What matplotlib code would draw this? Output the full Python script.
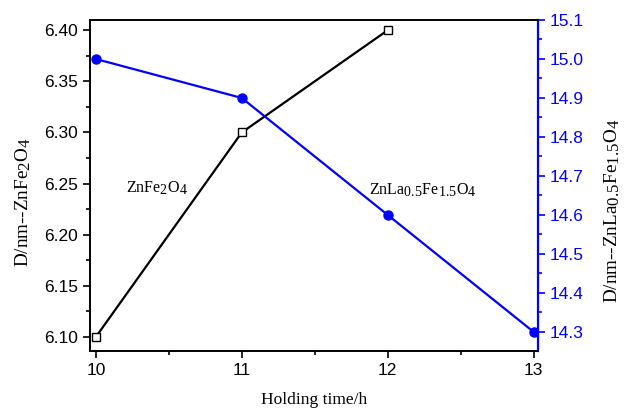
import matplotlib
matplotlib.use("Agg")
import matplotlib.pyplot as plt
from matplotlib.ticker import MultipleLocator, FormatStrFormatter
import matplotlib._mathtext as _mt

# Origin-style subscripts are only slightly smaller than the base text
_mt.SHRINK_FACTOR = 0.88

plt.rcParams['mathtext.fontset'] = 'custom'
plt.rcParams['mathtext.rm'] = 'Liberation Serif'
plt.rcParams['mathtext.it'] = 'Liberation Serif:italic'

hours_a = [10, 11, 12]
size_znfe = [6.10, 6.30, 6.40]
hours_b = [10, 11, 12, 13]
size_znlafe = [15.0, 14.9, 14.6, 14.3]

fig = plt.figure(figsize=(6.25, 4.11), dpi=100)
ax = fig.add_axes([90/625, 60/411, 448/625, 331/411])
ax2 = ax.twinx()

ax.plot(hours_a, size_znfe, color='black', lw=1.6, marker='s', ms=6,
        mfc='white', mec='black', mew=1.0, zorder=3)
ax2.plot(hours_b, size_znlafe, color='blue', lw=1.6, marker='o', ms=6.5,
         mfc='blue', mec='blue', zorder=3)

ax.set_xlim(9.96, 13.03)
ax.set_ylim(6.0863, 6.41)
ax2.set_ylim(14.251, 15.1)

ax.xaxis.set_major_locator(MultipleLocator(1))
ax.xaxis.set_minor_locator(MultipleLocator(0.5))
ax.yaxis.set_major_locator(MultipleLocator(0.05))
ax.yaxis.set_minor_locator(MultipleLocator(0.025))
ax2.yaxis.set_major_locator(MultipleLocator(0.1))
ax2.yaxis.set_minor_locator(MultipleLocator(0.05))
ax.yaxis.set_major_formatter(FormatStrFormatter('%.2f'))
ax2.yaxis.set_major_formatter(FormatStrFormatter('%.1f'))

ax.tick_params(axis='both', which='major', direction='out', length=5, width=1.2,
               labelsize=12.5)
ax.tick_params(axis='both', which='minor', direction='out', length=3, width=1.2)
ax2.tick_params(axis='y', which='major', direction='out', length=5, width=1.2,
                labelsize=12.5, colors='blue')
ax2.tick_params(axis='y', which='minor', direction='out', length=3, width=1.2,
                colors='blue')
for lab in ax.get_xticklabels() + ax.get_yticklabels() + ax2.get_yticklabels():
    lab.set_fontfamily('Liberation Sans')

for s in ax.spines.values():
    s.set_linewidth(1.2)
for s in ax2.spines.values():
    s.set_linewidth(1.2)
ax2.spines['right'].set_color('blue')
ax2.spines['right'].set_linewidth(1.6)

serif = 'Liberation Serif'
ax.set_xlabel('Holding time/h', fontfamily=serif, fontsize=12.5, labelpad=10)
ax.set_ylabel(r'D/nm--ZnFe$_{\mathrm{2}}$O$_{\mathrm{4}}$', fontfamily=serif,
              fontsize=13.8)
ax.yaxis.set_label_coords(-0.128, 0.45)
ax2.set_ylabel(r'D/nm--ZnLa$_{\mathrm{0.5}}$Fe$_{\mathrm{1.5}}$O$_{\mathrm{4}}$',
               fontfamily=serif, fontsize=13.8)
ax2.yaxis.set_label_coords(1.143, 0.425)

ax.text(10.21, 6.245, r'ZnFe$_{\mathrm{2}}$O$_{\mathrm{4}}$', fontfamily=serif,
        fontsize=11.5, va='center', ha='left')
ax.text(11.87, 6.243, r'ZnLa$_{\mathrm{0.5}}$Fe$_{\mathrm{1.5}}$O$_{\mathrm{4}}$',
        fontfamily=serif, fontsize=11.5, va='center', ha='left')

fig.savefig('out.png', dpi=100)
